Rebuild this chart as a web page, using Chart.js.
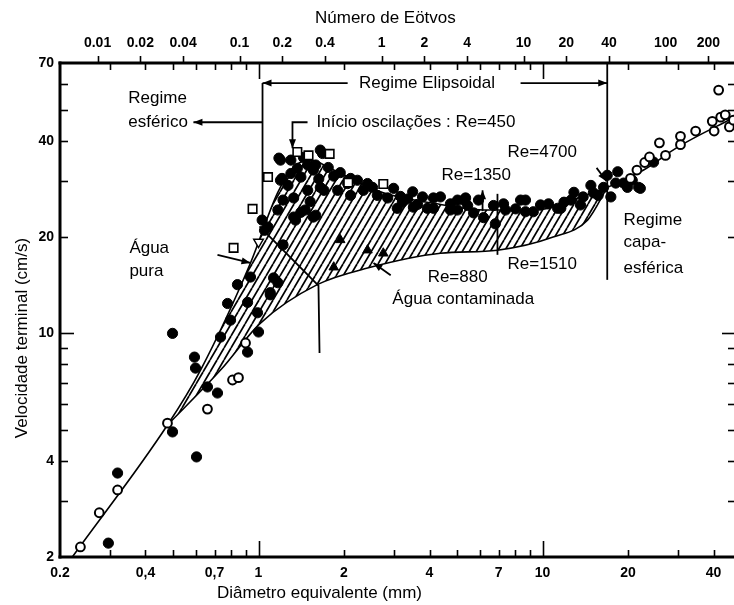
<!DOCTYPE html>
<html><head><meta charset="utf-8">
<script src="https://cdn.jsdelivr.net/npm/chart.js@4.4.0/dist/chart.umd.min.js"></script>
<style>
html,body{margin:0;padding:0;background:#fff;overflow:hidden;}
#wrap{width:734px;height:605px;overflow:hidden;position:relative;background:#fff;}
canvas{display:block;}
</style></head>
<body><div id="wrap"><canvas id="c" width="745" height="605"></canvas></div>
<script>
// ---------- scales / ticks ----------
const EO_PER_MM2 = 0.136;            // Eötvos number per mm² of diameter (water)
const xMin = 0.2, xMax = 48, yMin = 2, yMax = 70;
const diamLabelTicks = [0.2, 0.4, 0.7, 1, 2, 4, 7, 10, 20, 40];
const diamLabelText  = ['0.2', '0,4', '0,7', '1', '2', '4', '7', '10', '20', '40'];
const diamMinorTicks = [0.3, 0.4, 0.5, 0.6, 0.7, 0.8, 0.9, 2, 3, 4, 5, 6, 7, 8, 9, 20, 30, 40];
const diamMajorTicks = [1, 10];
const eoTicks  = [0.01, 0.02, 0.04, 0.1, 0.2, 0.4, 1, 2, 4, 10, 20, 40, 100, 200];
const eoLabels = ['0.01', '0.02', '0.04', '0.1', '0.2', '0.4', '1', '2', '4', '10', '20', '40', '100', '200'];
const velLabelTicks = [2, 4, 10, 20, 40, 70];
const velMinorTicks = [3, 4, 5, 6, 7, 8, 9, 20, 30, 40, 50, 60];
const velMajorTicks = [10];

// ---------- curves [diameter mm, velocity cm/s] ----------
const pureWater = [[0.221,2.0],[0.478,5.17],[0.625,7.68],[0.937,16.6],[1.167,27.5],[1.33,33.1],[1.52,34.8],
  [1.84,32.4],[2.75,27.5],[4.13,25.5],[6.40,24.3],[9.6,24.3],[12.6,26.1],[16.9,28.6],[22.7,32.4],[29.9,38.2],[47.4,47.4]];
const contaminated = [[0.478,5.17],[0.735,7.68],[1.016,10.77],[1.61,14.2],[2.42,16.0],[4.37,17.8],[6.94,18.2],
  [10.9,20.0],[14.4,22.6],[16.9,28.6]];

// ---------- measured points ----------
const filledCircles = [[0.296,2.21],[0.319,3.66],[0.498,4.92],[0.605,4.11],[0.498,10.0],[0.595,8.43],[0.600,7.79],
  [0.661,6.80],[0.717,6.51],[0.735,9.74],[0.797,11.0],[0.778,12.4],[0.843,14.2],[0.915,12.5],[0.937,15.0],[0.992,11.6],
  [1.0,10.1],[0.915,8.74],[1.10,13.4],[1.13,14.9],[1.03,22.6],[1.08,21.5],[1.22,18.9],[1.195,30.1],[1.18,35.3],
  [1.41,23.9],[1.56,23.1],[1.35,22.6],[1.17,14.4],[1.10,13.2],[1.195,34.8],[1.21,30.5],[1.37,32.8],[1.49,33.6],
  [1.56,32.4],[1.68,36.5],[1.76,33.0],[1.65,28.6],[1.84,31.0],[1.94,31.8],[2.06,29.4],[2.23,30.1],[2.34,28.0],
  [2.52,28.6],[2.62,27.0],[2.85,26.5],[2.99,28.4],[3.08,24.6],[3.35,26.3],[3.63,25.3],[3.93,24.6],[4.13,26.5],
  [1.49,28.0],[1.70,28.0],[1.22,26.1],[1.17,24.3],[1.33,23.1],[1.46,24.3],[1.59,23.4],[1.90,28.0],[1.41,30.8],
  [1.30,31.6],[1.27,29.0],[1.63,30.4],[2.11,27.0],[3.21,25.7],[3.49,27.7],[3.78,26.7],[1.65,37.4],[1.05,21.0],
  [4.37,26.7],[4.74,25.4],[5.02,24.3],[5.45,25.1],[5.72,23.8],[6.72,25.1],[7.29,25.4],[7.41,24.3],[6.82,22.0],
  [9.28,24.0],[10.5,25.4],[11.3,24.6],[12.6,26.1],[12.9,27.6],[13.9,26.7],[15.1,27.5],[16.4,28.6],[17.4,26.7],
  [18.4,32.0],[19.9,28.6],[21.8,28.6],[4.13,24.6],[6.2,23.0],[8.04,24.5],[19.3,29.5],[18.1,29.5],[16.9,31.2],
  [20.7,30.1],[22.1,28.4],[24.6,34.3],[8.37,26.1],[9.84,25.2],[14.8,29.0],[5.02,26.1],[5.36,26.5],[5.95,26.1],
  [8.71,26.1],[11.9,25.7],[1.30,34.8],[1.44,35.5],[1.59,33.6],[2.11,30.5],[2.42,29.4],[3.16,26.8],[3.51,24.8],
  [4.74,24.3],[5.28,26.1],[8.71,24.0],[11.6,24.6],[13.6,25.2],[15.7,27.0],[1.33,26.5],[1.52,25.8]];
const openCircles = [[0.236,2.15],[0.275,2.75],[0.319,3.24],[0.478,5.24],[0.661,5.80],[0.81,7.15],[0.85,7.27],
  [0.90,9.33],[41.7,57.6],[42.4,47.4],[44.0,48.2],[45.5,44.2],[40.2,42.9],[39.6,46.0],[34.6,42.9],[30.6,41.3],
  [30.6,38.9],[25.8,39.4],[27.1,36.0],[22.9,34.2],[23.8,35.6],[21.5,32.4],[47.0,46.4],[20.4,30.5]];
const openSquares = [[1.37,36.9],[1.50,36.0],[1.78,36.4],[2.75,29.3],[1.08,30.8],[0.953,24.5],[0.817,18.5],[2.07,29.6]];
const openTriangles = [[1.0,19.3]];
const filledTriangles = [[1.94,19.6],[1.84,16.1],[2.42,18.2],[2.75,17.8]];

// ---------- annotations (data coordinates) ----------
const annoLines = [
  {pts:[[1.033,45.7],[0.59,45.7]], arrow:true},
  {pts:[[2.06,60.6],[1.033,60.6]], arrow:true},
  {pts:[[8.37,60.6],[16.9,60.6]], arrow:true},
  {pts:[[1.033,60.6],[1.033,22.6]]},
  {pts:[[16.9,70],[16.9,14.7]]},
  {pts:[[1.488,45.7],[1.317,45.7],[1.317,37.9]], arrow:true},
  {pts:[[0.717,17.6],[0.937,16.6]], arrow:true},
  {pts:[[2.92,15.2],[2.54,16.6]], arrow:true},
  {pts:[[6.15,24.1],[6.15,28.0]], arrow:true},
  {pts:[[15.5,32.9],[16.8,29.9]], arrow:true},
  {pts:[[1.008,21.6],[1.626,14.1],[1.64,8.68]]},
  {pts:[[6.94,27.3],[6.94,17.6]]}
];
const annoTexts = [
  {t:'Regime', d:0.348, v:54.4, a:'left'},
  {t:'esférico', d:0.348, v:45.7, a:'left'},
  {t:'Regime Elipsoidal', d:3.92, v:60.6, a:'center'},
  {t:'Início oscilações : Re=450', d:1.60, v:45.7, a:'left'},
  {t:'Re=4700', d:7.53, v:36.9, a:'left'},
  {t:'Re=1350', d:4.41, v:31.2, a:'left'},
  {t:'Re=880', d:3.94, v:15.0, a:'left'},
  {t:'Re=1510', d:7.53, v:16.4, a:'left'},
  {t:'Água contaminada', d:2.96, v:12.8, a:'left'},
  {t:'Água', d:0.351, v:18.5, a:'left'},
  {t:'pura', d:0.351, v:15.6, a:'left'},
  {t:'Regime', d:19.3, v:22.6, a:'left'},
  {t:'capa-', d:19.3, v:19.2, a:'left'},
  {t:'esférica', d:19.3, v:16.0, a:'left'}
];

const FONT = "'Liberation Sans', Arial, sans-serif";
const toXY = arr => arr.map(p => ({x: p[0], y: p[1]}));

function makeHatch() {
  const w = 7, h = 12;
  const c = document.createElement('canvas'); c.width = w; c.height = h;
  const g = c.getContext('2d');
  g.strokeStyle = '#000'; g.lineWidth = 1.7;
  for (const k of [-1, 0, 1]) { g.beginPath(); g.moveTo(k * w, h); g.lineTo(k * w + w, 0); g.stroke(); }
  return g.createPattern(c, 'repeat');
}

function seg(ctx, x1, y1, x2, y2) { ctx.beginPath(); ctx.moveTo(x1, y1); ctx.lineTo(x2, y2); ctx.stroke(); }

const framePlugin = {
  id: 'frame',
  afterDraw(chart) {
    const {ctx, chartArea: a} = chart;
    const x = chart.scales.x, y = chart.scales.y, x2 = chart.scales.x2;
    ctx.save();
    ctx.strokeStyle = '#000'; ctx.fillStyle = '#000';
    // annotation lines
    ctx.lineWidth = 1.8;
    annoLines.forEach(L => {
      const P = L.pts.map(p => [x.getPixelForValue(p[0]), y.getPixelForValue(p[1])]);
      ctx.beginPath(); ctx.moveTo(P[0][0], P[0][1]);
      for (let i = 1; i < P.length; i++) ctx.lineTo(P[i][0], P[i][1]);
      ctx.stroke();
      if (L.arrow) {
        const [ex, ey] = P[P.length - 1], [sx, sy] = P[P.length - 2];
        const ang = Math.atan2(ey - sy, ex - sx), len = 9, hw = 3.5;
        ctx.beginPath(); ctx.moveTo(ex, ey);
        ctx.lineTo(ex - len * Math.cos(ang) + hw * Math.sin(ang), ey - len * Math.sin(ang) - hw * Math.cos(ang));
        ctx.lineTo(ex - len * Math.cos(ang) - hw * Math.sin(ang), ey - len * Math.sin(ang) + hw * Math.cos(ang));
        ctx.closePath(); ctx.fill();
      }
    });
    // annotation texts
    ctx.font = '17px ' + FONT; ctx.textBaseline = 'middle';
    annoTexts.forEach(T => {
      ctx.textAlign = T.a;
      ctx.fillText(T.t, x.getPixelForValue(T.d), y.getPixelForValue(T.v));
    });
    // axis frame
    ctx.lineWidth = 3;
    seg(ctx, a.left, a.top - 1.5, a.left, a.bottom + 1.5);
    seg(ctx, a.left - 1.5, a.bottom, a.right, a.bottom);
    seg(ctx, a.left - 1.5, a.top, a.right, a.top);
    seg(ctx, a.right, a.top, a.right, a.bottom);
    // tick marks (inward)
    ctx.lineWidth = 1.6;
    const dTick = (v, len) => { const px = Math.round(x.getPixelForValue(v)) + 0.5;
      seg(ctx, px, a.bottom, px, a.bottom - len); seg(ctx, px, a.top, px, a.top + len); };
    diamMinorTicks.forEach(v => dTick(v, 7));
    diamMajorTicks.forEach(v => dTick(v, 16));
    eoTicks.forEach(v => { const px = Math.round(x2.getPixelForValue(v)) + 0.5; seg(ctx, px, a.top, px, a.top - 7); });
    const vTick = (v, len) => { const py = Math.round(y.getPixelForValue(v)) + 0.5;
      seg(ctx, a.left, py, a.left + len, py); seg(ctx, a.right, py, a.right - len, py); };
    velMinorTicks.forEach(v => vTick(v, 8));
    velMajorTicks.forEach(v => vTick(v, 14));
    // axis titles
    ctx.font = '17px ' + FONT; ctx.textBaseline = 'middle'; ctx.textAlign = 'left';
    ctx.fillText('Número de Eötvos', 315, 18);
    ctx.fillText('Diâmetro equivalente (mm)', 217, 593);
    ctx.translate(22, 338); ctx.rotate(-Math.PI / 2); ctx.textAlign = 'center';
    ctx.fillText('Velocidade terminal (cm/s)', 0, 0);
    ctx.restore();
  }
};

const tickFont = {family: FONT, weight: 'bold', size: 14};
const hatch = makeHatch();

new Chart(document.getElementById('c').getContext('2d'), {
  type: 'scatter',
  data: {
    datasets: [
      {type: 'line', label: 'Água pura', data: toXY(pureWater), borderColor: '#000', borderWidth: 1.6,
       pointRadius: 0, fill: false, cubicInterpolationMode: 'monotone', order: 5},
      {type: 'line', label: 'Água contaminada', data: toXY(contaminated), borderColor: '#000', borderWidth: 1.6,
       pointRadius: 0, fill: '-1', backgroundColor: hatch, cubicInterpolationMode: 'monotone', order: 6},
      {label: 'filled circles', data: toXY(filledCircles), pointStyle: 'circle', pointRadius: 5.1,
       backgroundColor: '#000', borderColor: '#000', borderWidth: 1, order: 2},
      {label: 'open circles', data: toXY(openCircles), pointStyle: 'circle', pointRadius: 4.4,
       backgroundColor: '#fff', borderColor: '#000', borderWidth: 2, order: 1},
      {label: 'open squares', data: toXY(openSquares), pointStyle: 'rect', pointRadius: 6,
       backgroundColor: '#fff', borderColor: '#000', borderWidth: 1.6, order: 1},
      {label: 'open triangles', data: toXY(openTriangles), pointStyle: 'triangle', rotation: 180, pointRadius: 5.5,
       backgroundColor: '#fff', borderColor: '#000', borderWidth: 1.5, order: 1},
      {label: 'filled triangles', data: toXY(filledTriangles), pointStyle: 'triangle', pointRadius: 5.5,
       backgroundColor: '#000', borderColor: '#000', borderWidth: 1, order: 1}
    ]
  },
  options: {
    responsive: false, animation: false, events: [],
    layout: {padding: {left: 0, top: 0, right: 9, bottom: 0}},
    plugins: {legend: {display: false}, tooltip: {enabled: false}},
    scales: {
      x: {type: 'logarithmic', position: 'bottom', min: xMin, max: xMax,
          afterBuildTicks: s => { s.ticks = diamLabelTicks.map(v => ({value: v})); },
          afterFit: s => { s.height = 48; },
          ticks: {autoSkip: false, maxRotation: 0, minRotation: 0, padding: 8, color: '#000', font: tickFont,
                  callback: (v, i) => diamLabelText[i]},
          grid: {display: false, drawTicks: false}, border: {display: false}},
      x2: {type: 'logarithmic', position: 'top', min: EO_PER_MM2 * xMin * xMin, max: EO_PER_MM2 * xMax * xMax,
          afterBuildTicks: s => { s.ticks = eoTicks.map(v => ({value: v})); },
          afterFit: s => { s.height = 63; },
          ticks: {autoSkip: false, maxRotation: 0, minRotation: 0, padding: 11, color: '#000', font: tickFont,
                  callback: (v, i) => eoLabels[i]},
          grid: {display: false, drawTicks: false}, border: {display: false}},
      y: {type: 'logarithmic', min: yMin, max: yMax,
          afterBuildTicks: s => { s.ticks = velLabelTicks.map(v => ({value: v})); },
          afterFit: s => { s.width = 60; },
          ticks: {autoSkip: false, padding: 6, color: '#000', font: tickFont,
                  callback: v => String(v)},
          grid: {display: false, drawTicks: false}, border: {display: false}}
    }
  },
  plugins: [framePlugin]
});
</script>
</body></html>
